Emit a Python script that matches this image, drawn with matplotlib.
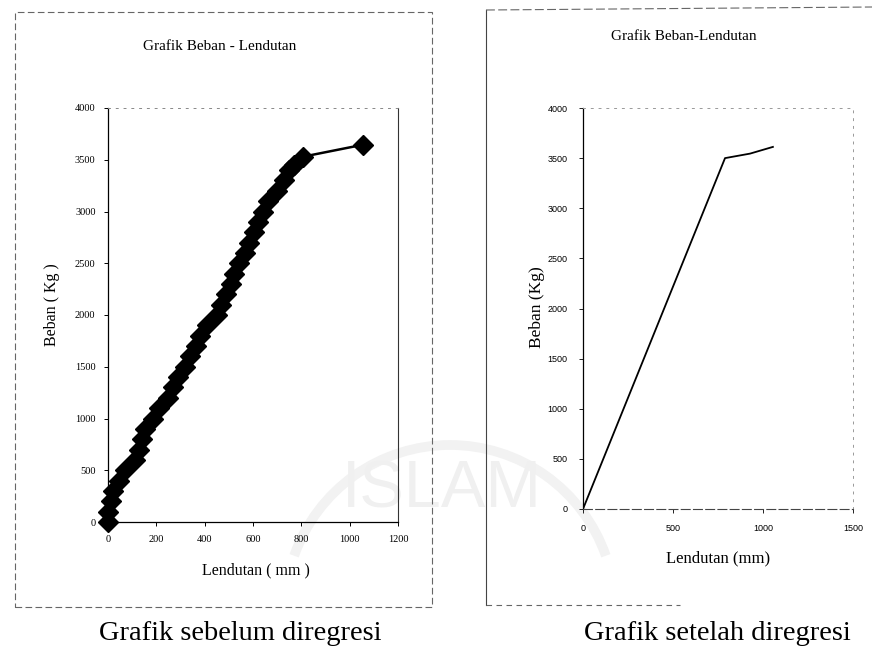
import matplotlib
matplotlib.use("Agg")
import matplotlib.pyplot as plt
from matplotlib.patches import Rectangle, Arc

# ---------------- data ----------------
lendutan_sebelum = [0, 2, 12, 22, 45, 70, 110, 128, 140, 155, 188, 210, 248, 268, 290,
                    318, 340, 365, 382, 410, 451, 468, 488, 508, 520, 540, 565, 585,
                    605, 620, 640, 662, 700, 728, 748, 770, 808, 1055]
beban_sebelum = [0, 100, 200, 300, 400, 500, 600, 700, 800, 900, 1000, 1100, 1200, 1300,
                 1400, 1500, 1600, 1700, 1800, 1900, 2000, 2100, 2200, 2300, 2400, 2500,
                 2600, 2700, 2800, 2900, 3000, 3100, 3200, 3300, 3400, 3450, 3530, 3645]

lendutan_setelah = [0, 789, 928, 1055]
beban_setelah = [0, 3500, 3545, 3612]

left_xticks = [0, 200, 400, 600, 800, 1000, 1200]
left_yticks = [0, 500, 1000, 1500, 2000, 2500, 3000, 3500, 4000]
right_xticks = [0, 500, 1000, 1500]
right_yticks = [0, 500, 1000, 1500, 2000, 2500, 3000, 3500, 4000]

title_left = "Grafik Beban - Lendutan"
title_right = "Grafik Beban-Lendutan"
xlabel_left = "Lendutan ( mm )"
ylabel_left = "Beban ( Kg )"
xlabel_right = "Lendutan (mm)"
ylabel_right = "Beban (Kg)"
caption_left = "Grafik sebelum diregresi"
caption_right = "Grafik setelah diregresi"
watermark = "ISLAM"

W, H = 872, 651
fig = plt.figure(figsize=(W / 100, H / 100), dpi=100)
fig.patch.set_facecolor("white")

serif = ["Liberation Serif", "DejaVu Serif"]
sans = ["Liberation Sans", "DejaVu Sans"]


def fx(px):
    return px / W


def fy(py):
    return 1 - py / H


# ---- faint watermark ----
fig.text(fx(442), fy(490), watermark, fontsize=48, color="#f0f0f0", family=sans,
         ha="center", va="center", zorder=-5)
wm = Arc((fx(450), fy(610)), 330 / W, 330 / H, theta1=25, theta2=155,
         transform=fig.transFigure, color="#f2f2f2", lw=7, zorder=-5)
fig.add_artist(wm)

# ---- outer frames ----
fig.add_artist(Rectangle((fx(15), fy(607)), fx(432) - fx(15), fy(12) - fy(607),
                         transform=fig.transFigure, fill=False, ec="#666666",
                         lw=0.8, ls=(0, (6, 3))))
fig.add_artist(plt.Line2D([fx(486), fx(486)], [fy(10), fy(605)],
                          transform=fig.transFigure, color="#444444", lw=0.8))
fig.add_artist(plt.Line2D([fx(486), fx(872)], [fy(10), fy(7)],
                          transform=fig.transFigure, color="#666666", lw=0.8,
                          ls=(0, (8, 3))))
fig.add_artist(plt.Line2D([fx(486), fx(680)], [fy(605), fy(605)],
                          transform=fig.transFigure, color="#666666", lw=0.8,
                          ls=(0, (5, 4))))

# ---------------- left chart ----------------
ax1 = fig.add_axes([fx(108), fy(522), fx(398) - fx(108), fy(108) - fy(522)])
ax1.patch.set_alpha(0)
ax1.plot(lendutan_sebelum, beban_sebelum, color="black", lw=1.8, marker="D",
         ms=10, mfc="black", mec="black", clip_on=False, zorder=3)
ax1.set_xlim(0, 1200)
ax1.set_ylim(0, 4000)
ax1.set_xticks(left_xticks)
ax1.set_yticks(left_yticks)
ax1.set_xticklabels([str(v) for v in left_xticks], family=serif, fontsize=7.5)
ax1.set_yticklabels([str(v) for v in left_yticks], family=serif, fontsize=7.5)
ax1.tick_params(length=3, width=0.7, pad=6)
ax1.spines["left"].set_linewidth(0.9)
ax1.spines["bottom"].set_linewidth(0.9)
ax1.spines["right"].set_linewidth(0.8)
ax1.spines["right"].set_color("#333333")
ax1.spines["top"].set_linestyle((0, (2, 6)))
ax1.spines["top"].set_color("#888888")
ax1.spines["top"].set_linewidth(0.7)

fig.text(fx(220), fy(46), title_left, family=serif, fontsize=11, ha="center", va="center")
fig.text(fx(256), fy(570), xlabel_left, family=serif, fontsize=11.5, ha="center", va="center")
fig.text(fx(52), fy(305), ylabel_left, family=serif, fontsize=11.5, ha="center",
         va="center", rotation=90)

# ---------------- right chart ----------------
ax2 = fig.add_axes([fx(583), fy(509), fx(853) - fx(583), fy(108) - fy(509)])
ax2.patch.set_alpha(0)
ax2.plot(lendutan_setelah, beban_setelah, color="black", lw=1.3, zorder=3)
ax2.set_xlim(0, 1500)
ax2.set_ylim(0, 4000)
ax2.set_xticks(right_xticks)
ax2.set_yticks(right_yticks)
ax2.set_xticklabels([str(v) for v in right_xticks], family=sans, fontsize=6.5)
ax2.set_yticklabels([str(v) for v in right_yticks], family=sans, fontsize=6.5)
ax2.tick_params(length=3, width=0.6, pad=8)
ax2.spines["left"].set_linewidth(0.9)
ax2.spines["bottom"].set_linestyle((0, (8, 3)))
ax2.spines["bottom"].set_color("#444444")
ax2.spines["bottom"].set_linewidth(0.8)
for s in ("top", "right"):
    ax2.spines[s].set_linestyle((0, (2, 6)))
    ax2.spines[s].set_color("#999999")
    ax2.spines[s].set_linewidth(0.7)

fig.text(fx(684), fy(37), title_right, family=serif, fontsize=11, ha="center", va="center")
fig.text(fx(718), fy(558), xlabel_right, family=serif, fontsize=12, ha="center", va="center")
fig.text(fx(537), fy(307), ylabel_right, family=serif, fontsize=12.5, ha="center",
         va="center", rotation=90)

# ---------------- captions ----------------
fig.text(fx(240), fy(633), caption_left, family=serif, fontsize=20.5, ha="center", va="center")
fig.text(fx(717), fy(633), caption_right, family=serif, fontsize=20.5, ha="center", va="center")

fig.savefig("out.png", dpi=100, facecolor="white")
